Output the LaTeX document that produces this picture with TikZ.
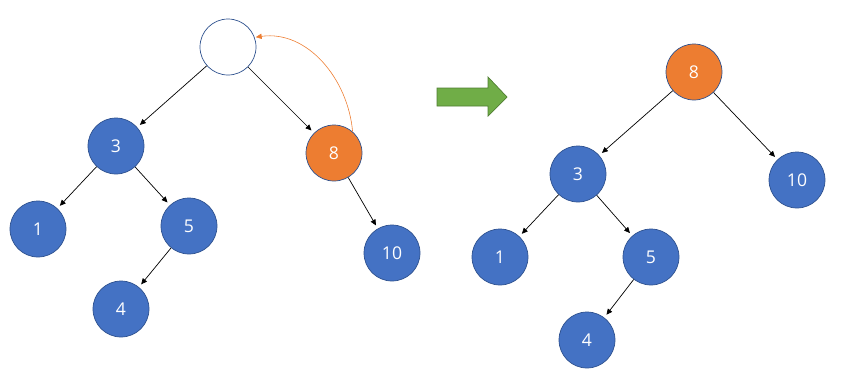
\documentclass[tikz,border=0pt]{standalone}
\usepackage{fontspec}
\setsansfont{Open Sans}
\definecolor{ppblue}{RGB}{68,114,196}
\definecolor{ppedge}{RGB}{47,82,143}
\definecolor{pporange}{RGB}{237,125,49}
\definecolor{ppgreen}{RGB}{112,173,71}
\definecolor{ppgreenedge}{RGB}{80,126,50}
\usetikzlibrary{arrows.meta}

\begin{document}
\begin{tikzpicture}[
  x=0.03cm, y=-0.03cm,
  every node/.style={font=\sffamily\fontsize{15}{18}\selectfont},
  keynode/.style={circle,draw=ppedge,line width=0.6pt,fill=ppblue,text=white,
                  minimum size=1.68cm,inner sep=0pt},
  hotnode/.style={keynode,fill=pporange},
  emptynode/.style={keynode,fill=white},
  arr/.style={-{Triangle[length=5pt,width=4.5pt]},line width=0.6pt,shorten >=3pt},
]
  \useasboundingbox (0,0) rectangle (863,384);

  % Tree before the removal (left)
  \node[emptynode] (root) at (228, 47) {};
  \node[keynode] (l3) at (116,146) {3};
  \node[hotnode] (l8) at (334,153) {8};
  \node[keynode] (l1) at (38,229) {1};
  \node[keynode] (l5) at (189,226) {5};
  \node[keynode] (l10) at (392,253) {10};
  \node[keynode] (l4) at (121,309) {4};

  \draw[arr] (root) -- (l3);
  \draw[arr] (root) -- (l8);
  \draw[arr] (l3) -- (l1);
  \draw[arr] (l3) -- (l5);
  \draw[arr] (l5) -- (l4);
  \draw[arr] (l8) -- (l10);

  % 8 moves up into the empty slot
  \draw[arr,pporange,line width=0.5pt,shorten >=1pt]
    (l8.49) to[out=95,in=8] (root.20);

  % Big arrow in the middle
  \filldraw[fill=ppgreen,draw=ppgreenedge,line width=0.6pt]
    (437,88) -- (488,88) -- (488,77) -- (507,97) -- (488,116)
    -- (488,106) -- (437,106) -- cycle;

  % Tree after the removal (right)
  \node[hotnode] (r8) at (694, 72) {8};
  \node[keynode] (r3) at (578,174) {3};
  \node[keynode] (r10) at (797,180) {10};
  \node[keynode] (r1) at (500,257) {1};
  \node[keynode] (r5) at (651,257) {5};
  \node[keynode] (r4) at (587,340) {4};

  \draw[arr] (r8) -- (r3);
  \draw[arr] (r8) -- (r10);
  \draw[arr] (r3) -- (r1);
  \draw[arr] (r3) -- (r5);
  \draw[arr] (r5) -- (r4);
\end{tikzpicture}
\end{document}
